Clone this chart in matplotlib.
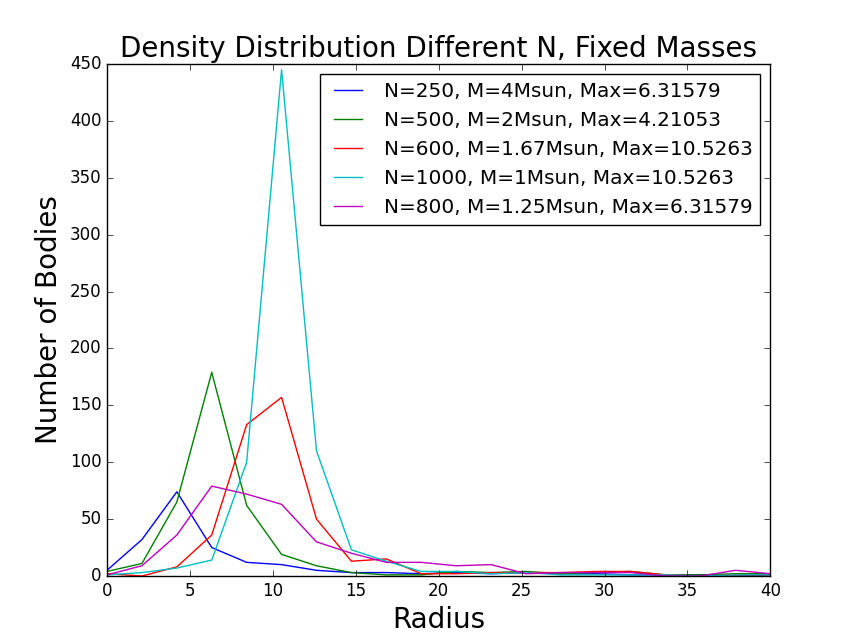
import matplotlib
matplotlib.use('Agg')
import matplotlib.pyplot as plt
import numpy as np

plt.style.use('classic')

radius = np.linspace(0, 40, 20)

n250 = [5, 32, 74, 25, 12, 10, 5, 3, 3, 2, 3, 2, 3, 2, 2, 1, 1, 1, 0, 1]
n500 = [4, 11, 65, 179, 62, 19, 9, 3, 1, 1, 4, 3, 4, 2, 3, 4, 1, 1, 2, 2]
n600 = [2, 0, 8, 36, 133, 157, 50, 13, 15, 2, 2, 3, 3, 3, 4, 4, 1, 0, 1, 1]
n1000 = [1, 3, 7, 14, 100, 445, 110, 23, 13, 4, 4, 2, 3, 1, 1, 1, 1, 0, 1, 1]
n800 = [1, 9, 36, 79, 72, 63, 30, 20, 12, 12, 9, 10, 2, 3, 3, 3, 0, 0, 5, 2]

fig = plt.figure(figsize=(8.56, 6.4), dpi=100)
plt.plot(radius, n250, 'b-', label='N=250, M=4Msun, Max=6.31579')
plt.plot(radius, n500, 'g-', label='N=500, M=2Msun, Max=4.21053')
plt.plot(radius, n600, 'r-', label='N=600, M=1.67Msun, Max=10.5263')
plt.plot(radius, n1000, 'c-', label='N=1000, M=1Msun, Max=10.5263')
plt.plot(radius, n800, 'm-', label='N=800, M=1.25Msun, Max=6.31579')

plt.title('Density Distribution Different N, Fixed Masses', fontsize=20)
plt.xlabel('Radius', fontsize=20)
plt.ylabel('Number of Bodies', fontsize=20)
plt.xlim(0, 40)
plt.ylim(0, 450)
plt.legend(loc='upper right', fontsize=14.4)

plt.savefig('out.png', dpi=100)
